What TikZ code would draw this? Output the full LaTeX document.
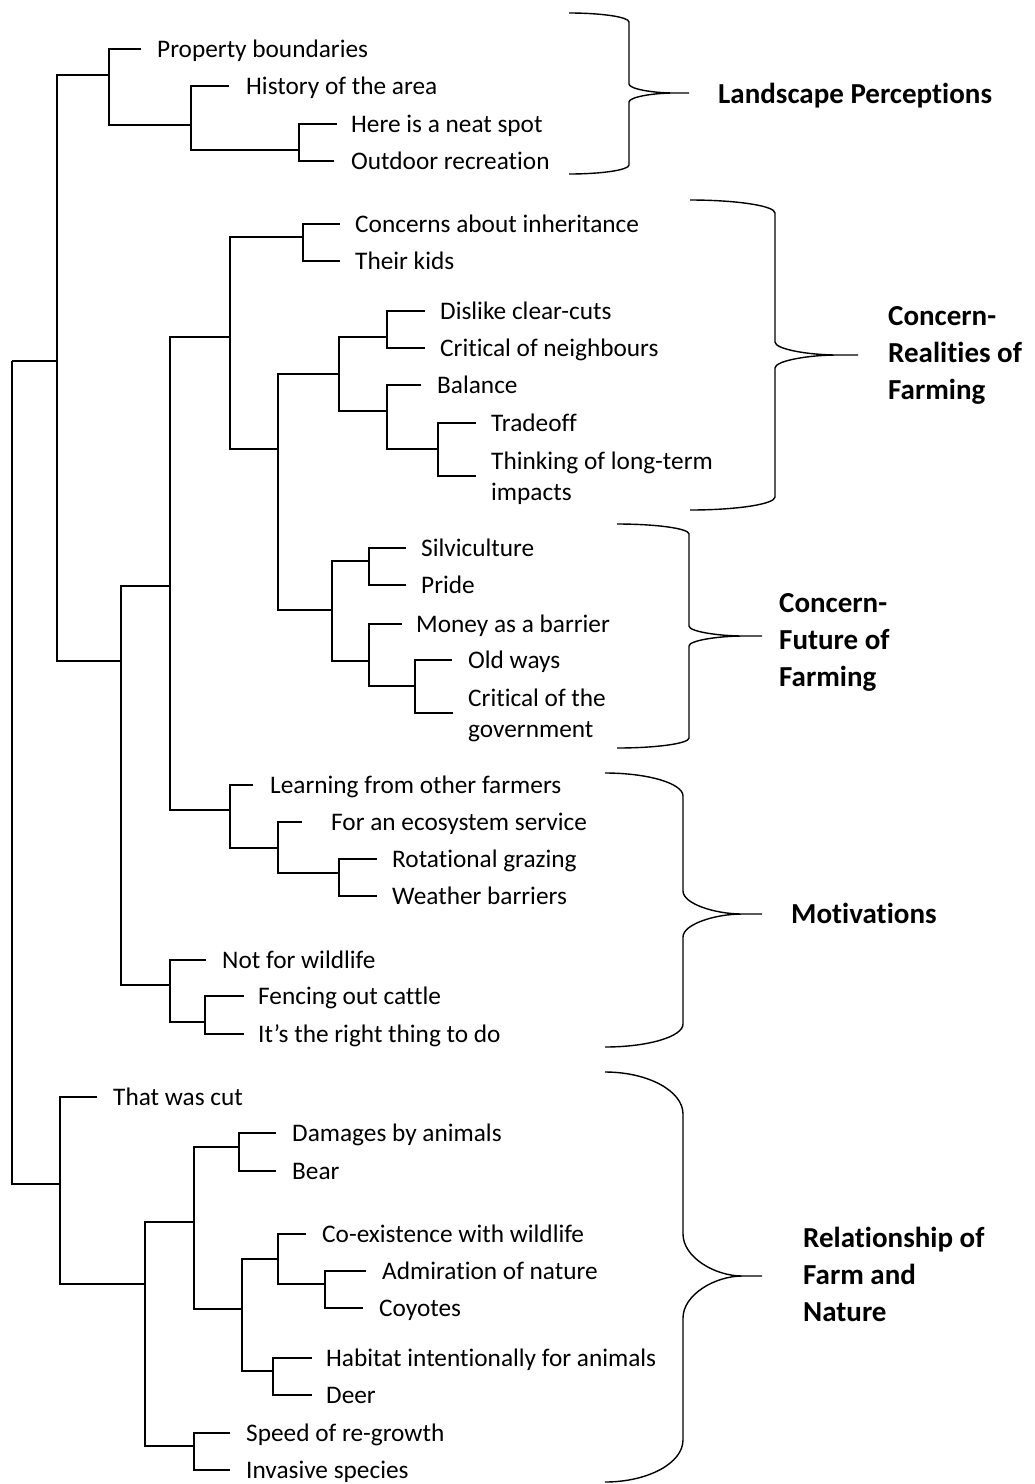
\documentclass[tikz,border=0pt]{standalone}
\usepackage{fontspec}
\setmainfont{Carlito}[Ligatures=NoCommon]
\newcommand{\leaf}[5]{%
  \coordinate (#1-e) at (#2,#3);
  \node[leaftext] (#1) at (#4,{#3+8.5}) {#5};}
\newcommand{\mleaf}[5]{%
  \coordinate (#1-e) at (#2,#3);
  \node[leaftext] (#1) at (#4,{#3-7}) {\begin{tabular}[t]{@{}l@{}}#5\end{tabular}};}
\newcommand{\curlybr}[7]{% x0 ytop xv ymid xtip ybot d
  \draw[bracestyle] (#1,#2) .. controls ({#1+0.55*(#3-#1)},#2) and (#3,{#2+0.45*#7}) .. (#3,{#2+#7})
    -- (#3,{#4-#7}) .. controls (#3,{#4-0.45*#7}) and ({#3+0.4*(#5-#3)},#4) .. ({#3+0.75*(#5-#3)},#4) -- (#5,#4)
    -- ({#3+0.75*(#5-#3)},#4) .. controls ({#3+0.4*(#5-#3)},#4) and (#3,{#4+0.45*#7}) .. (#3,{#4+#7})
    -- (#3,{#6-#7}) .. controls (#3,{#6-0.45*#7}) and ({#1+0.55*(#3-#1)},#6) .. (#1,#6);}
\begin{document}
\begin{tikzpicture}[x=1pt,y=-1pt,
  link/.style={line width=1.4pt},
  bracestyle/.style={line width=1.4pt},
  leaftext/.style={anchor=base west, inner sep=0pt, font=\fontsize{25.3}{31}\selectfont},
  grouplabel/.style={anchor=base west, inner sep=0pt, font=\fontsize{29}{37}\selectfont\bfseries}]
\useasboundingbox (0,0) rectangle (1034,1484);

% leaves
\leaf{pb}{141}{49}{157}{Property boundaries}
\leaf{hist}{229}{86}{246}{History of the area}
\leaf{neat}{337}{124}{351}{Here is a neat spot}
\leaf{outd}{334}{161}{351}{Outdoor recreation}
\leaf{inh}{340}{224}{355}{Concerns about inheritance}
\leaf{kids}{340}{261}{355}{Their kids}
\leaf{dis}{425}{311}{440}{Dislike clear-cuts}
\leaf{crn}{425}{348}{440}{Critical of neighbours}
\leaf{bal}{421}{385}{437}{Balance}
\leaf{trd}{476}{423}{491}{Tradeoff}
\mleaf{thk}{476}{476}{491}{Thinking of long-term\\impacts}
\leaf{silv}{406}{548}{421}{Silviculture}
\leaf{pride}{406}{585}{421}{Pride}
\leaf{money}{402}{624}{416}{Money as a barrier}
\leaf{old}{452}{660}{468}{Old ways}
\mleaf{crg}{453}{713}{468}{Critical of the\\government}
\leaf{learn}{253}{785}{270}{Learning from other farmers}
\leaf{eco}{302}{822}{331}{For an ecosystem service}
\leaf{rot}{377}{859}{392}{Rotational grazing}
\leaf{wea}{377}{896}{392}{Weather barriers}
\leaf{nfw}{206}{960}{222}{Not for wildlife}
\leaf{fence}{244}{996}{258}{Fencing out cattle}
\leaf{right}{244}{1034}{258}{It’s the right thing to do}
\leaf{cut}{97}{1097}{113}{That was cut}
\leaf{dam}{276}{1133}{292}{Damages by animals}
\leaf{bear}{276}{1171}{292}{Bear}
\leaf{coex}{306}{1234}{322}{Co-existence with wildlife}
\leaf{adm}{366}{1271}{382}{Admiration of nature}
\leaf{coy}{363}{1308}{379}{Coyotes}
\leaf{hab}{312}{1358}{326}{Habitat intentionally for animals}
\leaf{deer}{312}{1395}{326}{Deer}
\leaf{speed}{230}{1433}{246}{Speed of re-growth}
\leaf{inv}{230}{1470}{246}{Invasive species}

% junctions
\coordinate (root) at (12,361);
\coordinate (jtop) at (57,361);
\coordinate (jpb) at (109,75);
\coordinate (jhist) at (191,125);
\coordinate (jneat) at (299,150);
\coordinate (jB) at (121,661);
\coordinate (jC) at (170,586);
\coordinate (jD) at (230,337);
\coordinate (jinh) at (303,237);
\coordinate (jE) at (278,449);
\coordinate (jF) at (339,374);
\coordinate (jdis) at (387,337);
\coordinate (jbal) at (387,411);
\coordinate (jtrd) at (438,449);
\coordinate (jsilv) at (332,610);
\coordinate (jpride) at (369,561);
\coordinate (jmoney) at (369,661);
\coordinate (jold) at (415,686);
\coordinate (jlearn) at (230,810);
\coordinate (jeco) at (278,848);
\coordinate (jrot) at (339,873);
\coordinate (jnw) at (170,985);
\coordinate (jfence) at (205,1022);
\coordinate (jlow) at (60,1184);
\coordinate (jG) at (145,1284);
\coordinate (jH) at (194,1222);
\coordinate (jdam) at (239,1147);
\coordinate (jI) at (242,1309);
\coordinate (jco) at (278,1259);
\coordinate (jadm) at (325,1284);
\coordinate (jhab) at (273,1371);
\coordinate (jspeed) at (194,1446);

% connectors
\foreach \p/\c in {root/jtop, root/jlow,
  jtop/jpb, jtop/jB,
  jpb/pb-e, jpb/jhist,
  jhist/hist-e, jhist/jneat,
  jneat/neat-e, jneat/outd-e,
  jB/jC, jB/jnw,
  jC/jD, jC/jlearn,
  jD/jinh, jD/jE,
  jinh/inh-e, jinh/kids-e,
  jE/jF, jE/jsilv,
  jF/jdis, jF/jbal,
  jdis/dis-e, jdis/crn-e,
  jbal/bal-e, jbal/jtrd,
  jtrd/trd-e, jtrd/thk-e,
  jsilv/jpride, jsilv/jmoney,
  jpride/silv-e, jpride/pride-e,
  jmoney/money-e, jmoney/jold,
  jold/old-e, jold/crg-e,
  jlearn/learn-e, jlearn/jeco,
  jeco/eco-e, jeco/jrot,
  jrot/rot-e, jrot/wea-e,
  jnw/nfw-e, jnw/jfence,
  jfence/fence-e, jfence/right-e,
  jlow/cut-e, jlow/jG,
  jG/jH, jG/jspeed,
  jH/jdam, jH/jI,
  jdam/dam-e, jdam/bear-e,
  jI/jco, jI/jhab,
  jco/coex-e, jco/jadm,
  jadm/adm-e, jadm/coy-e,
  jhab/hab-e, jhab/deer-e,
  jspeed/speed-e, jspeed/inv-e}
  \draw[link] (\p) |- (\c);

% braces
\curlybr{569}{13}{629}{93}{689}{174}{9}
\curlybr{690}{200}{775}{355}{858}{510}{13}
\curlybr{617}{524}{689}{636}{762}{748}{10}
\curlybr{605}{773}{683}{914}{762}{1047}{23}
\curlybr{605}{1072}{683}{1276}{762}{1482}{42}

% group labels
\node[grouplabel] (lp) at (718,103) {Landscape Perceptions};
\node[grouplabel] (crf) at (888,325) {\begin{tabular}[t]{@{}l@{}}Concern-\\Realities of\\Farming\end{tabular}};
\node[grouplabel] (cff) at (779,612) {\begin{tabular}[t]{@{}l@{}}Concern-\\Future of\\Farming\end{tabular}};
\node[grouplabel] (mot) at (791,923) {Motivations};
\node[grouplabel] (rfn) at (803,1247) {\begin{tabular}[t]{@{}l@{}}Relationship of\\Farm and\\Nature\end{tabular}};
\end{tikzpicture}
\end{document}
